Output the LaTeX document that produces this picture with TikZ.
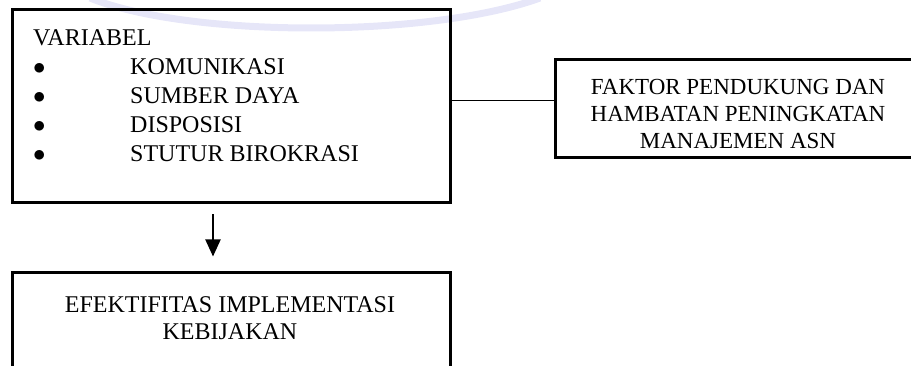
\documentclass[tikz,border=0pt]{standalone}
\usepackage{fontspec}
\setmainfont{Liberation Serif}
\usetikzlibrary{arrows.meta}
\definecolor{cLine}{RGB}{0,0,0}
\definecolor{cMark}{RGB}{230,230,248}
\tikzset{
  B/.style    = {draw=cLine, line width=3pt, minimum width=#1, inner sep=0pt},
  T/.style    = {inner sep=0pt, font=\fontsize{23}{27}\selectfont, align=center},
  L/.style    = {inner sep=0pt, font=\fontsize{24}{29}\selectfont, align=left},
  C/.style    = {draw=cLine, line width=1pt},
  A/.style    = {-{Triangle[width=15pt,length=17pt]}, draw=cLine, line width=2pt},
}
\newcommand{\bul}[1]{\makebox[97pt][l]{$\bullet$}#1}

\begin{document}
\begin{tikzpicture}[x=1pt, y=-1pt]

\useasboundingbox (0,0) rectangle (911,366);

%% ─── faint watermark ────────────────────────────────────────────
\draw[cMark, line width=7pt] (90,-2) .. controls (190,38) and (430,38) .. (540,-2);

%% ─── variables ──────────────────────────────────────────────────
\node[B=438pt, minimum height=193pt] (var) at (231, 106.5) {};
\node[L, anchor=north west] (varTxt) at (33, 29)
  {VARIABEL\\
   \bul{KOMUNIKASI}\\
   \bul{SUMBER DAYA}\\
   \bul{DISPOSISI}\\
   \bul{STUTUR BIROKRASI}};

%% ─── supporting / inhibiting factors ────────────────────────────
\node[B=370pt, minimum height=98pt] (faktor) at (740, 109) {};
\node[T, anchor=north] (faktorTxt) at (738, 79.5)
  {FAKTOR PENDUKUNG DAN\\HAMBATAN PENINGKATAN\\MANAJEMEN ASN};

\draw[C] ([yshift=8pt]faktor.west) -- ([yshift=8pt]faktor.west -| var.east);

%% ─── effectiveness ──────────────────────────────────────────────
\node[B=438pt, minimum height=150pt] (efek) at (231, 348) {};
\node[T, font=\fontsize{24}{27}\selectfont, anchor=north] (efekTxt) at (230, 296)
  {EFEKTIFITAS IMPLEMENTASI\\KEBIJAKAN};

\draw[A] ([xshift=-18pt, yshift=-10pt]var.south) -- ([xshift=-18pt, yshift=15pt]efek.north);

\end{tikzpicture}
\end{document}
